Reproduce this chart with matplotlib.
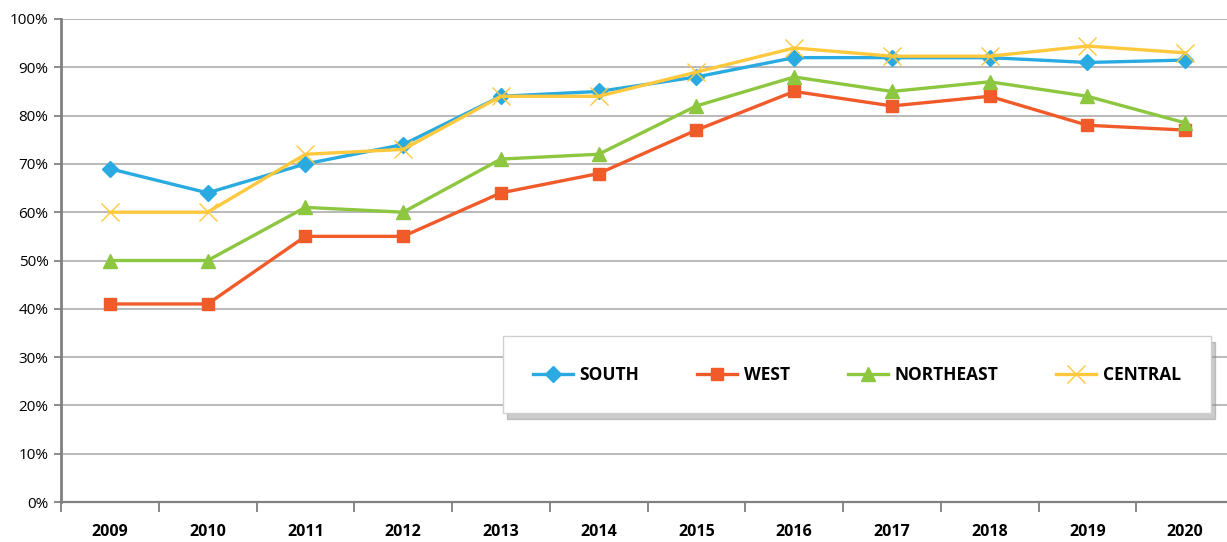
import matplotlib
matplotlib.use("Agg")
import matplotlib.pyplot as plt
from matplotlib.ticker import FixedLocator, PercentFormatter

years = ["2009", "2010", "2011", "2012", "2013", "2014", "2015", "2016", "2017", "2018", "2019", "2020"]
south = [69, 64, 70, 74, 84, 85, 88, 92, 92, 92, 91, 91.5]
west = [41, 41, 55, 55, 64, 68, 77, 85, 82, 84, 78, 77]
northeast = [50, 50, 61, 60, 71, 72, 82, 88, 85, 87, 84, 78.5]
central = [60, 60, 72, 73, 84, 84, 89, 94, 92.3, 92.3, 94.4, 93]
series_names = ["SOUTH", "WEST", "NORTHEAST", "CENTRAL"]

fig = plt.figure(figsize=(12.27, 5.42), dpi=100)
ax = fig.add_axes([61/1227, 40/542, (1234-61)/1227, (502-19)/542])

x = list(range(len(years)))
ax.plot(x, south, color="#29ABE2", lw=2.4, marker="D", ms=8.5, label=series_names[0], zorder=4)
ax.plot(x, west, color="#F15A29", lw=2.4, marker="s", ms=9, label=series_names[1], zorder=3)
ax.plot(x, northeast, color="#8DC63F", lw=2.4, marker="^", ms=10, label=series_names[2], zorder=3)
ax.plot(x, central, color="#FFC83D", lw=2.4, marker="x", ms=13, mew=1.0, label=series_names[3], zorder=5)

ax.set_xlim(-0.5, len(years) - 0.5)
ax.set_ylim(0, 100)
ax.yaxis.set_major_locator(FixedLocator(range(0, 101, 10)))
ax.yaxis.set_major_formatter(PercentFormatter(decimals=0))
ax.grid(axis="y", color="#A6A6A6", lw=1.1)
ax.set_axisbelow(True)

ax.set_xticks(x)
ax.set_xticklabels(years, fontsize=11.5, fontweight="bold", family="Open Sans")
ax.set_xticks([i - 0.5 for i in range(len(years) + 1)], minor=True)
ax.tick_params(axis="x", which="major", length=0, pad=16)
ax.tick_params(axis="x", which="minor", length=7, width=1.3, color="#808080", direction="out")
ax.tick_params(axis="y", length=5, width=1.3, color="#808080", labelsize=11, pad=4)
for lab in ax.get_yticklabels():
    lab.set_family("Open Sans")

for s in ["top", "right"]:
    ax.spines[s].set_visible(False)
ax.spines["left"].set_color("#808080")
ax.spines["left"].set_linewidth(2)
ax.spines["bottom"].set_color("#808080")
ax.spines["bottom"].set_linewidth(1.6)

leg = ax.legend(loc="lower left", bbox_to_anchor=(0.377, 0.184, 0.603, 0.145), mode="expand",
                ncol=4, frameon=True, fancybox=False,
                shadow={"color": "0.55", "alpha": 0.45, "ox": 3, "oy": -4},
                borderaxespad=0, handlelength=2.3, handletextpad=0.4, borderpad=1.7,
                prop={"family": "Open Sans", "weight": "bold", "size": 12.5})
leg.get_frame().set_edgecolor("#D0D0D0")
leg.get_frame().set_linewidth(1)

fig.savefig("out.png", dpi=100)
